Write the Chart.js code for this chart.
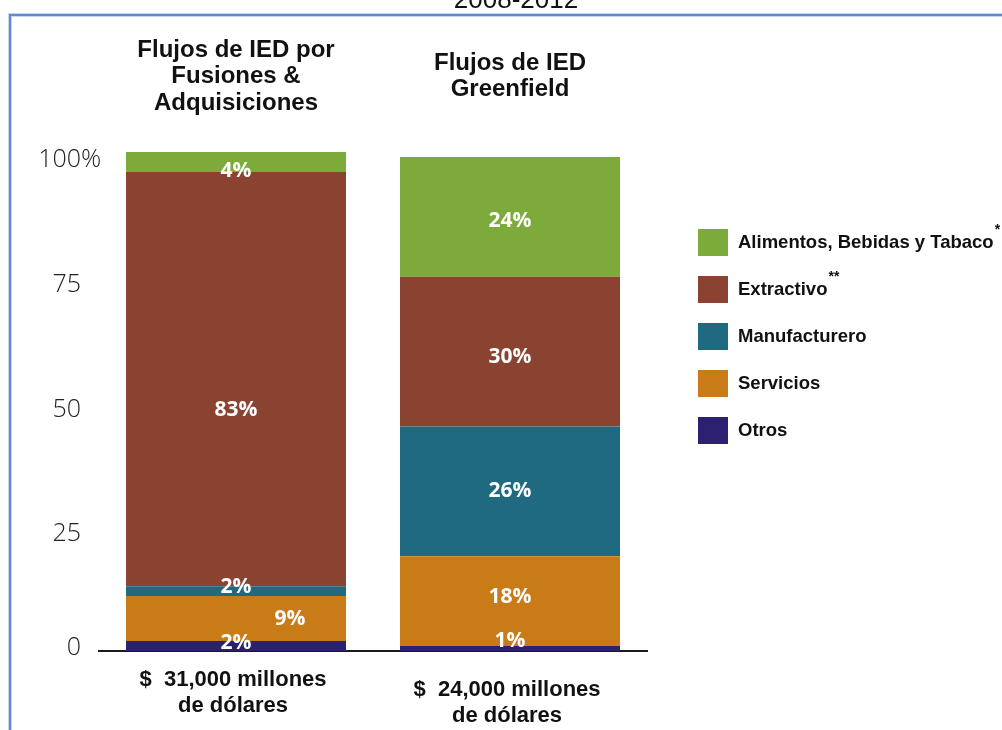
<!DOCTYPE html>
<html>
<head>
<meta charset="utf-8">
<script src="https://cdn.jsdelivr.net/npm/chart.js@4"></script>
<style>
  html, body { margin: 0; padding: 0; background: #fff; }
  #wrap { width: 1002px; height: 730px; }
</style>
</head>
<body>
<div id="wrap"><canvas id="ied-chart" width="1002" height="730"></canvas></div>
<script>
// IED por sector: fusiones & adquisiciones vs greenfield (% del total)
var periodo = '2008-2012';
var titulosBarras = [['Flujos de IED por', 'Fusiones &', 'Adquisiciones'], ['Flujos de IED', 'Greenfield']];
var montos = [['$  31,000 millones', 'de dólares'], ['$  24,000 millones', 'de dólares']];
var sectores = ['Otros', 'Servicios', 'Manufacturero', 'Extractivo', 'Alimentos, Bebidas y Tabaco'];
var notas = ['', '', '', '**', '*'];
var otros = [2, 1];
var servicios = [9, 18];
var manufacturero = [2, 26];
var extractivo = [83, 30];
var alimentos = [4, 24];
var yTicks = [0, 25, 50, 75, 100];

var colores = ['#2c2070', '#c97b17', '#1f6a80', '#8a4231', '#7dab3b'];
var series = [otros, servicios, manufacturero, extractivo, alimentos];

var SANS = '"Liberation Sans", Arial, sans-serif';

// small nudges so the labels sit like the printed version
var ajustes = {
  '4-0': [0, 9], '3-0': [0, 31], '2-0': [0, -4], '1-0': [54, 0], '0-0': [0, -3],
  '0-1': [0, -7], '4-1': [0, 4], '3-1': [0, 5], '1-1': [0, -4]
};

var marco = {
  id: 'marco',
  beforeDraw: function(chart) {
    var ctx = chart.ctx;
    ctx.save();
    ctx.fillStyle = '#fff';
    ctx.fillRect(0, 0, chart.width, chart.height);
    ctx.fillStyle = '#111';
    ctx.font = '26px ' + SANS;
    ctx.textAlign = 'center';
    ctx.textBaseline = 'alphabetic';
    ctx.fillText(periodo, 516, 8);
    ctx.strokeStyle = 'rgba(91,139,209,0.35)';
    ctx.lineWidth = 4;
    ctx.beginPath();
    ctx.moveTo(10, chart.height);
    ctx.lineTo(10, 15);
    ctx.lineTo(chart.width, 15);
    ctx.stroke();
    ctx.strokeStyle = '#5b8bd1';
    ctx.lineWidth = 2;
    ctx.stroke();
    ctx.restore();
  }
};

var textos = {
  id: 'textos',
  afterDatasetsDraw: function(chart) {
    var ctx = chart.ctx;
    ctx.save();
    ctx.fillStyle = '#fff';
    ctx.font = 'bold 21px "Open Sans", ' + SANS;
    ctx.textAlign = 'center';
    ctx.textBaseline = 'middle';
    chart.data.datasets.forEach(function(ds, di) {
      chart.getDatasetMeta(di).data.forEach(function(bar, i) {
        var d = ajustes[di + '-' + i] || [0, 0];
        ctx.fillText(ds.data[i] + '%', bar.x + d[0], (bar.y + bar.base) / 2 + d[1]);
      });
    });
    ctx.restore();
  },
  afterDraw: function(chart) {
    var ctx = chart.ctx;
    var x = chart.scales.x, y = chart.scales.y;
    ctx.save();

    // eje de porcentajes
    ctx.fillStyle = '#222';
    ctx.font = '300 25px "Open Sans", ' + SANS;
    ctx.textBaseline = 'middle';
    yTicks.forEach(function(v) {
      var py = y.getPixelForValue(v) + (v > 0 ? 8 : -3);
      ctx.textAlign = 'right';
      ctx.fillText(String(v), 81, py);
      if (v === 100) {
        ctx.textAlign = 'left';
        ctx.fillText('%', 81, py);
      }
    });

    // montos debajo de cada barra
    ctx.fillStyle = '#111';
    ctx.font = 'bold 22px ' + SANS;
    ctx.textAlign = 'center';
    montos.forEach(function(lineas, i) {
      var px = x.getPixelForValue(i) - 3;
      var py = chart.chartArea.bottom + 29 + (i === 1 ? 10 : 0);
      lineas.forEach(function(t, k) {
        ctx.fillText(t, px, py + k * 26);
      });
    });

    // leyenda
    ctx.textAlign = 'left';
    for (var k = 0; k < sectores.length; k++) {
      var di = sectores.length - 1 - k;
      var top = 229 + k * 47;
      ctx.fillStyle = colores[di];
      ctx.fillRect(698, top, 30, 27);
      ctx.fillStyle = '#111';
      ctx.font = 'bold 18.5px ' + SANS;
      ctx.fillText(sectores[di], 738, top + 14);
      if (notas[di]) {
        var w = ctx.measureText(sectores[di]).width;
        ctx.font = 'bold 14px ' + SANS;
        ctx.fillText(notas[di], 738 + w + 1, top + 1);
      }
    }
    ctx.restore();
  }
};

new Chart(document.getElementById('ied-chart'), {
  type: 'bar',
  data: {
    labels: ['Fusiones & Adquisiciones', 'Greenfield'],
    datasets: sectores.map(function(s, i) {
      return {
        label: s,
        data: series[i],
        backgroundColor: colores[i],
        borderWidth: 0,
        barPercentage: 0.803,
        categoryPercentage: 1
      };
    })
  },
  options: {
    responsive: false,
    animation: false,
    layout: { padding: { left: 99, right: 355, top: 22, bottom: 0 } },
    plugins: {
      legend: { display: false },
      tooltip: { enabled: false }
    },
    scales: {
      x: {
        stacked: true,
        grid: { display: false, drawTicks: false },
        border: { display: true, color: '#1a1a1a', width: 2 },
        ticks: { display: false },
        afterFit: function(s) { s.height = 79; }
      },
      x2: {
        type: 'category',
        labels: titulosBarras,
        position: 'top',
        grid: { display: false, drawTicks: false },
        border: { display: false },
        ticks: {
          color: '#111',
          font: { family: SANS, weight: 'bold', size: 24, lineHeight: 1.1 },
          padding: 49,
          crossAlign: 'center',
          maxRotation: 0,
          autoSkip: false
        },
        afterFit: function(s) { s.height = 130; }
      },
      y: {
        stacked: true,
        display: false,
        min: 0,
        max: 100
      }
    }
  },
  plugins: [marco, textos]
});
</script>
</body>
</html>
